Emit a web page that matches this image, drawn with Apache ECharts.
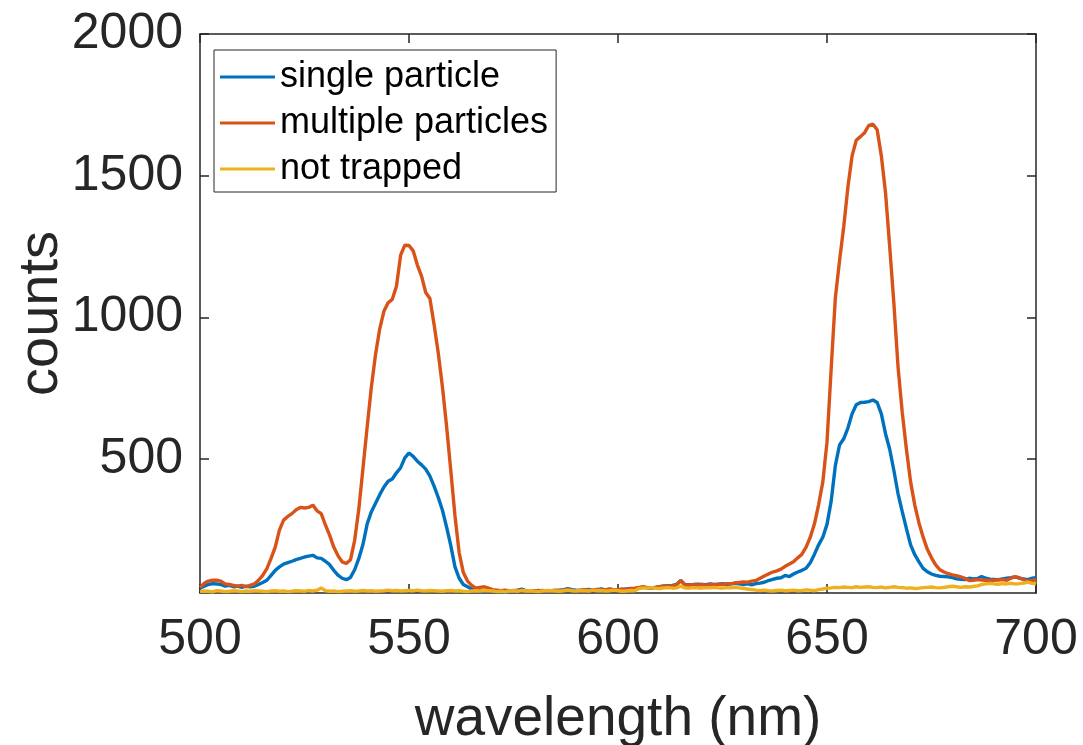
<!DOCTYPE html>
<html>
<head>
<meta charset="utf-8">
<script src="https://cdn.jsdelivr.net/npm/echarts@6/dist/echarts.min.js"></script>
<style>
html,body{margin:0;padding:0;background:#fff;}
#chart{width:1083px;height:745px;}
</style>
</head>
<body>
<div id="chart"></div>
<script>
const wavelength = [
500,501,502,503,504,505,506,507,508,509,
510,511,512,513,514,515,516,517,518,519,
520,521,522,523,524,525,526,527,528,529,
530,531,532,533,534,535,536,537,538,539,
540,541,542,543,544,545,546,547,548,549,
550,551,552,553,554,555,556,557,558,559,
560,561,562,563,564,565,566,567,568,569,
570,571,572,573,574,575,576,577,578,579,
580,581,582,583,584,585,586,587,588,589,
590,591,592,593,594,595,596,597,598,599,
600,601,602,603,604,605,606,607,608,609,
610,611,612,613,614,615,616,617,618,619,
620,621,622,623,624,625,626,627,628,629,
630,631,632,633,634,635,636,637,638,639,
640,641,642,643,644,645,646,647,648,649,
650,651,652,653,654,655,656,657,658,659,
660,661,662,663,664,665,666,667,668,669,
670,671,672,673,674,675,676,677,678,679,
680,681,682,683,684,685,686,687,688,689,
690,691,692,693,694,695,696,697,698,699,
700];

const singleParticle = [
45,52,58,61,60,58,52,55,50,52,
48,52,50,52,58,65,73,90,108,120,
130,135,140,146,150,155,158,161,152,150,
140,128,108,91,80,75,83,110,150,200,
272,315,345,375,402,422,430,452,470,505,
522,510,493,480,465,440,405,365,320,260,
195,120,80,58,50,42,38,36,35,37,
36,34,32,30,33,35,38,42,36,33,
35,37,34,32,35,36,38,40,43,40,
38,37,39,41,38,40,42,39,41,40,
38,40,42,44,42,46,49,46,45,48,
50,53,54,55,58,72,58,57,58,59,
58,57,60,58,59,61,58,60,62,60,
58,60,57,61,63,66,72,76,80,82,
90,86,95,102,108,115,135,165,198,225,
270,352,478,550,572,610,660,692,700,701,
703,709,700,660,590,535,460,378,315,255,
198,163,138,115,103,95,90,87,86,85,
82,78,76,75,80,78,79,86,80,77,
76,75,78,80,82,85,80,78,75,80,
82];

const multipleParticles = [
48,62,70,73,73,70,60,58,55,52,
55,50,55,60,73,90,114,150,190,250,
285,298,308,322,330,328,330,338,318,308,
268,232,190,160,138,132,145,214,325,470,
615,755,870,960,1022,1052,1064,1110,1220,1255,
1254,1235,1185,1146,1088,1067,975,875,755,615,
460,300,170,100,70,55,45,48,50,45,
40,38,36,38,35,37,36,38,35,34,
36,35,37,34,36,38,36,38,40,37,
36,38,40,37,39,41,38,40,42,39,
40,42,40,43,45,48,50,47,46,48,
50,52,53,53,56,72,57,56,57,56,
58,56,58,57,59,58,61,60,64,65,
67,66,70,72,80,88,95,102,106,112,
122,130,138,152,165,190,225,272,340,420,
560,820,1070,1200,1320,1460,1570,1625,1638,1652,
1678,1682,1662,1570,1440,1250,1050,825,665,535,
420,338,275,225,182,152,127,110,102,96,
92,89,85,80,72,73,75,74,73,72,
73,74,75,73,80,86,82,75,70,72,
75];

const notTrapped = [
33,35,34,32,36,35,33,34,36,35,
33,35,34,36,35,34,33,35,36,34,
35,33,34,36,35,34,37,35,38,46,
36,34,35,33,34,35,36,34,35,37,
35,36,34,35,36,38,36,37,35,36,
37,36,38,36,35,37,36,35,34,36,
37,35,36,34,33,35,36,35,37,36,
35,33,34,32,35,36,34,37,35,36,
34,33,35,37,36,35,34,36,38,36,
35,37,36,35,38,36,37,35,36,38,
36,34,35,37,36,44,46,45,47,45,
44,46,47,45,46,52,46,45,47,46,
45,47,46,48,46,45,47,46,48,46,
44,42,40,38,37,38,36,35,37,38,
36,37,38,36,37,39,38,36,40,42,
45,46,48,47,49,48,47,50,48,49,
50,48,47,49,46,48,50,48,47,45,
46,44,45,47,48,49,47,46,48,50,
52,50,48,50,49,51,53,58,60,62,
60,59,61,60,62,60,61,63,66,62,
60];

const seriesNames = ['single particle', 'multiple particles', 'not trapped'];
const seriesColors = ['#0072BD', '#D95319', '#EDB120'];
const xTicks = [500, 550, 600, 650, 700];
const yTicks = [500, 1000, 1500, 2000];
const xTitle = 'wavelength (nm)';
const yTitle = 'counts';

const FONT = "'Liberation Sans', Arial, Helvetica, sans-serif";
const AX = '#262626';

function pairs(ys) { return wavelength.map((x, i) => [x, ys[i]]); }

const chart = echarts.init(document.getElementById('chart'), null, {renderer: 'canvas'});

const xCommon = {
  type: 'value', min: 500, max: 700,
  splitLine: {show: false},
  axisLine: {show: true, onZero: false, lineStyle: {color: AX, width: 1.5}},
  axisTick: {show: true, inside: true, length: 9, lineStyle: {color: AX, width: 1.5}, customValues: xTicks},
};
const yCommon = {
  type: 'value', min: 28, max: 2000,
  splitLine: {show: false},
  axisLine: {show: true, onZero: false, lineStyle: {color: AX, width: 1.5}},
  axisTick: {show: true, inside: true, length: 9, lineStyle: {color: AX, width: 1.5}, customValues: yTicks},
};

chart.setOption({
  animation: false,
  backgroundColor: '#fff',
  textStyle: {fontFamily: FONT},
  grid: {left: 200, right: 47, top: 34, bottom: 152, containLabel: false, outerBoundsMode: 'none'},
  xAxis: [
    Object.assign({}, xCommon, {
      position: 'bottom',
      axisLabel: {show: true, customValues: xTicks, fontSize: 50, color: AX, margin: 22, fontFamily: FONT,
                  formatter: v => String(v)},
      name: xTitle, nameLocation: 'middle', nameGap: 99, nameMoveOverlap: false,
      nameTextStyle: {fontSize: 55, color: AX, fontFamily: FONT}
    }),
    Object.assign({}, xCommon, {position: 'top', axisLabel: {show: false}})
  ],
  yAxis: [
    Object.assign({}, yCommon, {
      position: 'left',
      axisLabel: {show: true, customValues: yTicks, fontSize: 50, color: AX, margin: 17, fontFamily: FONT,
                  formatter: v => String(v)},
      name: yTitle, nameLocation: 'middle', nameGap: 130, nameMoveOverlap: false,
      nameTextStyle: {fontSize: 56, color: AX, fontFamily: FONT}
    }),
    Object.assign({}, yCommon, {position: 'right', axisLabel: {show: false}})
  ],
  legend: {
    orient: 'vertical', left: 214, top: 50,
    padding: [9, 8, 5, 6], itemGap: 10,
    itemWidth: 55, itemHeight: 3, icon: 'rect',
    borderColor: AX, borderWidth: 1, backgroundColor: '#fff',
    textStyle: {fontSize: 36, color: '#000', fontFamily: FONT},
    data: seriesNames
  },
  series: [
    {name: seriesNames[0], data: pairs(singleParticle)},
    {name: seriesNames[1], data: pairs(multipleParticles)},
    {name: seriesNames[2], data: pairs(notTrapped)}
  ].map((s, i) => Object.assign(s, {
    type: 'line', showSymbol: false, symbol: 'none',
    color: seriesColors[i],
    lineStyle: {color: seriesColors[i], width: 3.4},
    xAxisIndex: 0, yAxisIndex: 0
  }))
});
</script>
</body>
</html>
